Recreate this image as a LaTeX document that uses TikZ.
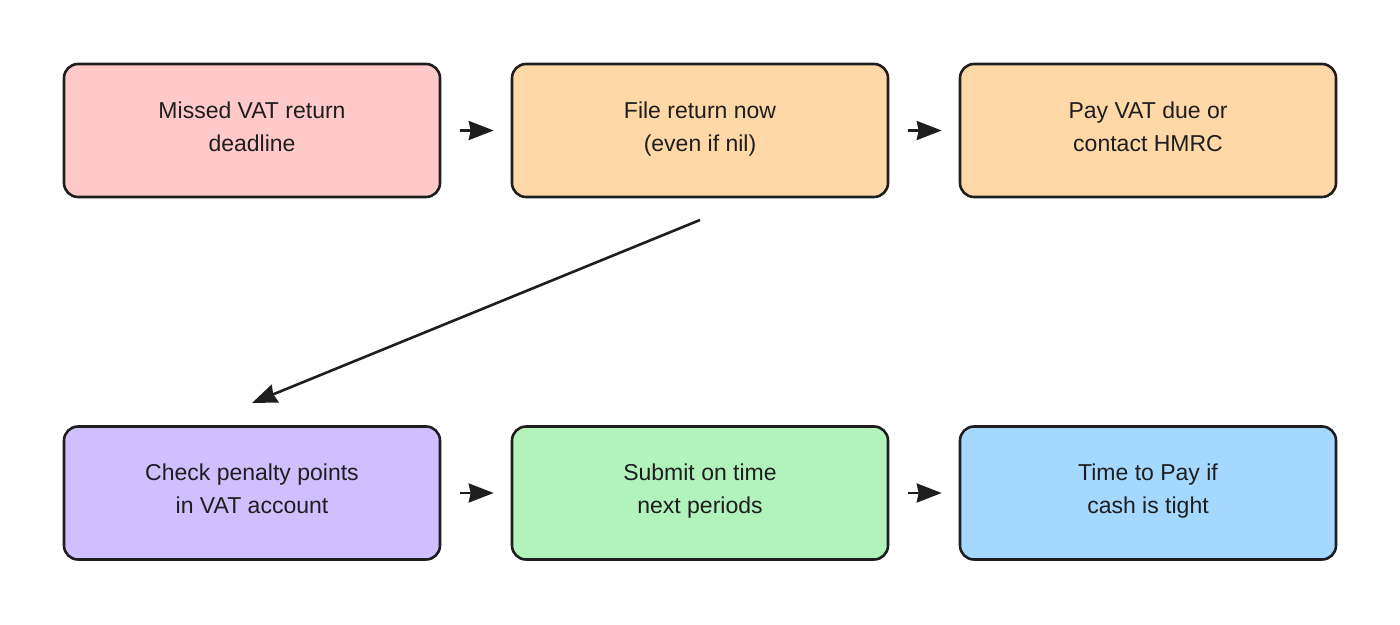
\documentclass[tikz,border=0pt]{standalone}
\usepackage{fontspec}
\setmainfont{Liberation Sans}
\usetikzlibrary{arrows.meta}
\definecolor{edge}{HTML}{1E1E1E}
\definecolor{txt}{HTML}{1E1E1E}
\definecolor{cpink}{HTML}{FFC9C9}
\definecolor{corange}{HTML}{FFD8A8}
\definecolor{cpurple}{HTML}{D0BFFF}
\definecolor{cgreen}{HTML}{B2F2BB}
\definecolor{cblue}{HTML}{A5D8FF}
\tikzset{
  box/.style={draw=edge, line width=2.6pt, rounded corners=14pt, minimum width=376pt, minimum height=133pt, inner sep=0pt},
  lbl/.style={align=center, text=txt, font=\fontsize{23}{33}\selectfont, inner sep=0pt},
  conn/.style={draw=edge, line width=2.6pt, -{Stealth[length=25pt,width=19pt,inset=2pt]}},
}
\begin{document}
\begin{tikzpicture}[x=1pt,y=-1pt]
\useasboundingbox (0,0) rectangle (1400,624);
\node[box, fill=cpink]   (a) at (252,130.5) {};
\node[box, fill=corange] (b) at (700,130.5) {};
\node[box, fill=corange] (c) at (1148,130.5) {};
\node[box, fill=cpurple] (d) at (252,493) {};
\node[box, fill=cgreen]  (e) at (700,493) {};
\node[box, fill=cblue]   (f) at (1148,493) {};
\node[lbl] (ta) at (252,128) {\strut Missed VAT return\\\strut deadline};
\node[lbl] (tb) at (700,128) {\strut File return now\\\strut (even if nil)};
\node[lbl] (tc) at (1148,128) {\strut Pay VAT due or\\\strut contact HMRC};
\node[lbl] (td) at (252,490.5) {\strut Check penalty points\\\strut in VAT account};
\node[lbl] (te) at (700,490.5) {\strut Submit on time\\\strut next periods};
\node[lbl] (tf) at (1148,490.5) {\strut Time to Pay if\\\strut cash is tight};
\coordinate (bs) at (700,220);
\coordinate (dt) at (252,403);
\draw[conn] ([xshift=19pt]a.east) -- ([xshift=-17pt]b.west);
\draw[conn] ([xshift=19pt]b.east) -- ([xshift=-17pt]c.west);
\draw[conn] ([xshift=19pt]d.east) -- ([xshift=-17pt]e.west);
\draw[conn] ([xshift=19pt]e.east) -- ([xshift=-17pt]f.west);
\draw[conn] (bs) -- (dt);
\end{tikzpicture}
\end{document}
